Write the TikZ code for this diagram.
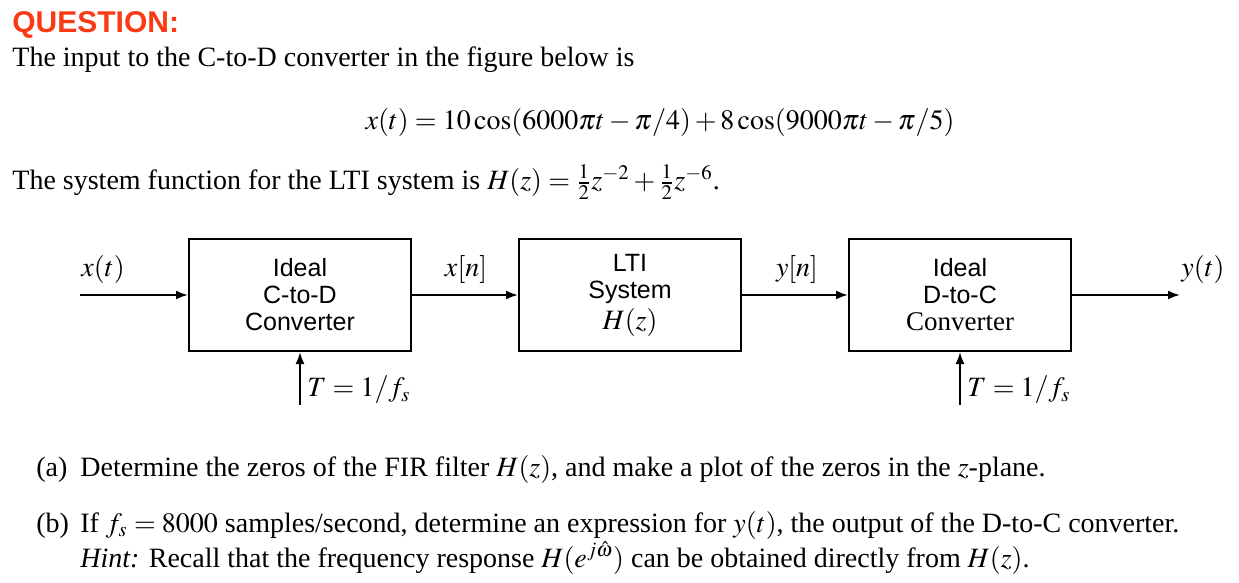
\documentclass[tikz,border=0pt]{standalone}
\usepackage{mathptmx}
\usepackage{fontspec}
\setmainfont{Liberation Serif}
\setsansfont{Liberation Sans}
\usetikzlibrary{arrows.meta}

\definecolor{qred}{RGB}{250,58,20}

\begin{document}
\begin{tikzpicture}[
    x=0.5pt, y=-0.5pt, % one unit is one pixel of the layout
    >={Latex[length=6pt,width=4.5pt]}, % filled arrow tips
    block/.style={draw, line width=1pt, minimum width=111pt, minimum height=56pt, inner sep=0pt, align=center, text width=105pt, font=\sffamily\fontsize{12.5}{13.5}\selectfont}, % system boxes
    signal/.style={->, line width=1pt}, % signal lines
    sig label/.style={inner sep=0pt, font=\fontsize{14}{16}\selectfont}, % labels on the lines
    body/.style={anchor=base west, inner sep=0pt, font=\fontsize{14}{16}\selectfont} % lines of text
  ]

  % --- Page ---
  \useasboundingbox (0,0) rectangle (1239,583);

  % --- Question text ---
  \node[body, font=\sffamily\bfseries\fontsize{15}{18}\selectfont, text=qred] (title) at (12,33) {QUESTION:};
  \node[body] (intro) at (12,67) {The input to the C-to-D converter in the figure below is};
  \node[body, anchor=base] (xeq) at (660,130) {$x(t) = 10\cos(6000\pi t - \pi/4) + 8\cos(9000\pi t - \pi/5)$};
  \node[body] (sysfn) at (12,190) {The system function for the LTI system is $H(z) = \frac{1}{2}z^{-2} + \frac{1}{2}z^{-6}$.};

  % --- Blocks ---
  \node[block] (ctod) at (300,295) {Ideal\\C-to-D\\Converter};
  \node[block] (lti) at (630,295) {LTI\\System\\[2pt]\rmfamily\fontsize{14}{16}\selectfont$H(z)$};
  \node[block] (dtoc) at (960,295) {Ideal\\D-to-C\\\rmfamily\fontsize{13.5}{14}\selectfont Converter};

  % --- Signals ---
  \coordinate (xin) at (80,295);
  \coordinate (yout) at (1180,295);
  \coordinate (ts1) at (300,405);
  \coordinate (ts2) at (960,405);
  \draw[signal] (xin) -- (ctod);
  \draw[signal] (ctod) -- (lti);
  \draw[signal] (lti) -- (dtoc);
  \draw[signal] (dtoc) -- (yout);
  \draw[signal] (ts1) -- (ctod.south);
  \draw[signal] (ts2) -- (dtoc.south);

  % labels
  \node[sig label] (xt) at (103,270) {$x(t)$};
  \node[sig label] (xn) at (466,270) {$x[n]$};
  \node[sig label] (yn) at (797,270) {$y[n]$};
  \node[sig label] (yt) at (1203,270) {$y(t)$};
  \node[sig label, anchor=west] (T1) at (307,390) {$T = 1/f_s$};
  \node[sig label, anchor=west] (T2) at (967,390) {$T = 1/f_s$};

  % --- Parts ---
  \node[body] (pa) at (36,476) {(a)};
  \node[body] (pa text) at (80,476) {Determine the zeros of the FIR filter $H(z)$, and make a plot of the zeros in the $z$-plane.};
  \node[body] (pb) at (36,532) {(b)};
  \node[body] (pb text) at (80,532) {If $f_s = 8000$ samples/second, determine an expression for $y(t)$, the output of the D-to-C converter.};
  \node[body] (hint) at (80,567) {\textit{Hint:} Recall that the frequency response $H(e^{j\hat{\omega}})$ can be obtained directly from $H(z)$.};

\end{tikzpicture}
\end{document}
